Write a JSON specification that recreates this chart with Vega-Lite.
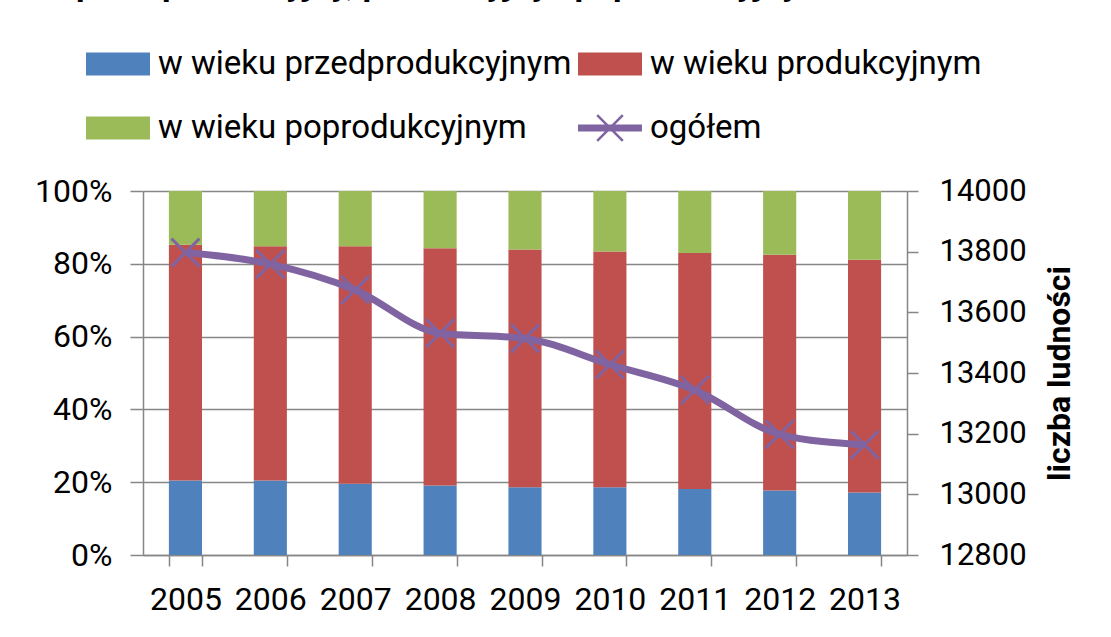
{
  "$schema": "https://vega.github.io/schema/vega-lite/v6.json",
  "width": 764,
  "height": 364,
  "autosize": {"type": "none"},
  "padding": {"left": 143, "top": 191, "right": 204, "bottom": 82},
  "background": "white",
  "title": {
    "text": "wiek przedprodukcyjny, produkcyjny i poprodukcyjny",
    "anchor": "start",
    "frame": "group",
    "orient": "top",
    "baseline": "alphabetic",
    "font": "Roboto",
    "fontSize": 34,
    "fontWeight": "bold",
    "color": "black",
    "dx": -146,
    "dy": -3,
    "offset": 0
  },
  "datasets": {
    "udzialy": [
      {"rok": "2005", "grupa": "w wieku przedprodukcyjnym", "udzial": 20.5},
      {"rok": "2005", "grupa": "w wieku produkcyjnym", "udzial": 64.7},
      {"rok": "2005", "grupa": "w wieku poprodukcyjnym", "udzial": 14.8},
      {"rok": "2006", "grupa": "w wieku przedprodukcyjnym", "udzial": 20.5},
      {"rok": "2006", "grupa": "w wieku produkcyjnym", "udzial": 64.3},
      {"rok": "2006", "grupa": "w wieku poprodukcyjnym", "udzial": 15.2},
      {"rok": "2007", "grupa": "w wieku przedprodukcyjnym", "udzial": 19.6},
      {"rok": "2007", "grupa": "w wieku produkcyjnym", "udzial": 65.2},
      {"rok": "2007", "grupa": "w wieku poprodukcyjnym", "udzial": 15.2},
      {"rok": "2008", "grupa": "w wieku przedprodukcyjnym", "udzial": 19.1},
      {"rok": "2008", "grupa": "w wieku produkcyjnym", "udzial": 65.2},
      {"rok": "2008", "grupa": "w wieku poprodukcyjnym", "udzial": 15.7},
      {"rok": "2009", "grupa": "w wieku przedprodukcyjnym", "udzial": 18.6},
      {"rok": "2009", "grupa": "w wieku produkcyjnym", "udzial": 65.3},
      {"rok": "2009", "grupa": "w wieku poprodukcyjnym", "udzial": 16.1},
      {"rok": "2010", "grupa": "w wieku przedprodukcyjnym", "udzial": 18.6},
      {"rok": "2010", "grupa": "w wieku produkcyjnym", "udzial": 64.8},
      {"rok": "2010", "grupa": "w wieku poprodukcyjnym", "udzial": 16.6},
      {"rok": "2011", "grupa": "w wieku przedprodukcyjnym", "udzial": 18.1},
      {"rok": "2011", "grupa": "w wieku produkcyjnym", "udzial": 64.9},
      {"rok": "2011", "grupa": "w wieku poprodukcyjnym", "udzial": 17.0},
      {"rok": "2012", "grupa": "w wieku przedprodukcyjnym", "udzial": 17.7},
      {"rok": "2012", "grupa": "w wieku produkcyjnym", "udzial": 64.8},
      {"rok": "2012", "grupa": "w wieku poprodukcyjnym", "udzial": 17.5},
      {"rok": "2013", "grupa": "w wieku przedprodukcyjnym", "udzial": 17.2},
      {"rok": "2013", "grupa": "w wieku produkcyjnym", "udzial": 63.9},
      {"rok": "2013", "grupa": "w wieku poprodukcyjnym", "udzial": 18.9}
    ],
    "ludnosc": [
      {"rok": "2005", "ludnosc": 13797},
      {"rok": "2006", "ludnosc": 13759},
      {"rok": "2007", "ludnosc": 13674},
      {"rok": "2008", "ludnosc": 13531},
      {"rok": "2009", "ludnosc": 13514},
      {"rok": "2010", "ludnosc": 13428},
      {"rok": "2011", "ludnosc": 13344},
      {"rok": "2012", "ludnosc": 13198},
      {"rok": "2013", "ludnosc": 13163}
    ]
  },
  "layer": [
    {
      "data": {"name": "udzialy"},
      "mark": {"type": "bar"},
      "encoding": {
        "x": {
          "field": "rok",
          "type": "nominal",
          "scale": {"paddingInner": 0.61, "paddingOuter": 0.305},
          "axis": {
            "title": null,
            "labelAngle": 0,
            "tickBand": "extent",
            "tickSize": 11,
            "labelPadding": 18,
            "grid": false
          }
        },
        "y": {
          "field": "udzial",
          "type": "quantitative",
          "stack": "normalize",
          "scale": {"domain": [0, 1]},
          "axis": {
            "orient": "left",
            "title": null,
            "format": ".0%",
            "values": [0, 0.2, 0.4, 0.6, 0.8, 1],
            "tickSize": 13,
            "labelPadding": 18,
            "grid": true
          }
        },
        "color": {
          "field": "grupa",
          "type": "nominal",
          "scale": {
            "domain": ["w wieku przedprodukcyjnym", "w wieku produkcyjnym", "w wieku poprodukcyjnym", "ogółem"],
            "range": ["#4F81BD", "#C0504D", "#9BBB59", "#8064A2"]
          },
          "legend": {
            "title": null,
            "orient": "none",
            "direction": "horizontal",
            "legendX": -57,
            "legendY": -159,
            "columns": 2,
            "symbolSize": 4096,
            "symbolType": "M-1,-0.36H1V0.36H-1Z",
            "symbolStrokeWidth": 0,
            "symbolOpacity": 1,
            "labelFont": "Roboto",
            "labelFontSize": 33,
            "labelColor": "black",
            "labelLimit": 0,
            "labelOffset": 8,
            "columnPadding": 6,
            "rowPadding": 15,
            "encode": {
              "symbols": {
                "update": {
                  "shape": {"signal": "datum.value === 'ogółem' ? 'M-1,-0.11H1V0.11H-1Z M-0.372,-0.428L0.428,0.372L0.372,0.428L-0.428,-0.372Z M-0.428,0.372L0.372,-0.428L0.428,-0.372L-0.372,0.428Z' : 'M-1,-0.36H1V0.36H-1Z'"},
                  "fill": {"scale": "color", "field": "value"},
                  "fillOpacity": {"value": 1},
                  "strokeWidth": {"value": 0}
                }
              }
            }
          }
        },
        "order": {"field": "grupa", "sort": "descending"}
      }
    },
    {
      "data": {"name": "ludnosc"},
      "encoding": {
        "x": {"field": "rok", "type": "nominal"},
        "y": {
          "field": "ludnosc",
          "type": "quantitative",
          "scale": {"domain": [12800, 14000], "nice": false, "zero": false},
          "axis": {
            "orient": "right",
            "title": "liczba ludności",
            "values": [12800, 13000, 13200, 13400, 13600, 13800, 14000],
            "format": "d",
            "tickSize": 11,
            "labelPadding": 21,
            "labelFontSize": 31,
            "grid": false,
            "titleFont": "Roboto",
            "titleFontSize": 32,
            "titleFontWeight": "bold",
            "titleAngle": 270,
            "titlePadding": 50
          }
        }
      },
      "layer": [
        {
          "mark": {"type": "line", "strokeWidth": 7, "interpolate": "monotone"},
          "encoding": {"color": {"datum": "ogółem"}}
        },
        {
          "mark": {
            "type": "point",
            "shape": "M-1,-1L1,1M-1,1L1,-1",
            "size": 784,
            "strokeWidth": 3,
            "filled": false,
            "opacity": 1,
            "color": "#8064A2"
          }
        }
      ]
    }
  ],
  "resolve": {"scale": {"y": "independent"}},
  "config": {
    "view": {"stroke": null},
    "font": "Roboto",
    "axis": {
      "domainColor": "#868686",
      "tickColor": "#868686",
      "gridColor": "#868686",
      "domainWidth": 1.5,
      "tickWidth": 1.5,
      "gridWidth": 1.5,
      "labelColor": "black",
      "labelFont": "Roboto",
      "labelFontSize": 32,
      "titleColor": "black"
    }
  }
}
